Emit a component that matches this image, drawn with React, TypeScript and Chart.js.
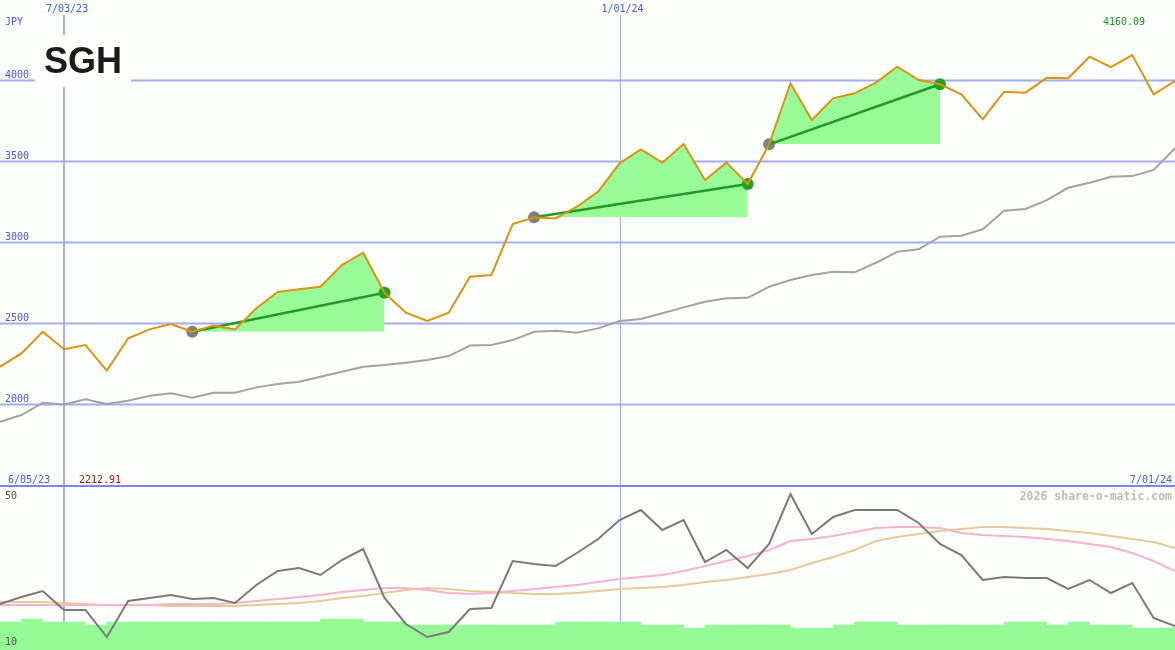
import React, { useEffect, useRef } from 'react';
import { Chart, registerables } from 'chart.js';

Chart.register(...registerables);

// ---- data (weekly points, index 0 = 6/12/23 ... index 55 = 7/01/24) ----
const price = [
  2236, 2319, 2452, 2344, 2370, 2212.91, 2412, 2467, 2500, 2452,
  2490, 2467, 2597, 2698, 2714, 2730, 2864, 2940, 2693, 2570,
  2519, 2570, 2792, 2802, 3117, 3159, 3152, 3224, 3317, 3492,
  3578, 3496, 3611, 3389, 3496, 3364, 3609, 3986, 3759, 3893,
  3924, 3990, 4088, 4006, 3980, 3918, 3765, 3934, 3928, 4020,
  4017, 4150, 4085, 4160.09, 3918, 4000,
];
const priceAvg = [
  1897, 1938, 2014, 2004, 2035, 2006, 2027, 2057, 2072, 2045,
  2076, 2076, 2109, 2130, 2144, 2175, 2206, 2236, 2247, 2261,
  2278, 2302, 2367, 2370, 2401, 2452, 2459, 2446, 2473, 2519,
  2531, 2566, 2603, 2638, 2659, 2662, 2730, 2772, 2802, 2823,
  2819, 2878, 2946, 2961, 3039, 3045, 3085, 3199, 3210, 3265,
  3341, 3372, 3409, 3413, 3451, 3585,
];
const signalStart = [9, 25, 36];
const signalEnd = [18, 35, 44];

const osc = [
  21.5, 23.25, 24.75, 20, 20, 13.25, 22.25, 23, 23.75, 22.75,
  23, 21.75, 26.25, 29.75, 30.5, 28.75, 32.5, 35.25, 23, 16.5,
  13.25, 14.5, 20.25, 20.5, 32.25, 31.5, 31, 34.25, 37.75, 42.5,
  45, 40, 42.5, 32, 35, 30.5, 36.5, 49, 39, 43.25,
  45, 45, 45, 41.75, 36.5, 33.75, 27.5, 28.25, 28, 28,
  25.25, 27.5, 24.25, 26.75, 18, 16,
];
const oscFast = [
  21.25, 21.25, 21.25, 21.25, 21.25, 21.25, 21.25, 21.25, 21.5, 21.5,
  21.5, 21.75, 22.25, 22.75, 23.25, 23.75, 24.5, 25, 25.5, 25.5,
  25, 24.25, 24, 24.25, 24.75, 25.25, 25.75, 26.25, 27, 27.75,
  28.25, 28.75, 29.75, 31, 32.25, 33.5, 35, 37.25, 37.75, 38.5,
  39.5, 40.5, 40.75, 40.75, 40.5, 39.25, 38.75, 38.5, 38.25, 37.75,
  37.25, 36.5, 35.75, 34.25, 32.25, 29.75,
];
const oscSlow = [
  22, 22, 22, 21.75, 21.5, 21.25, 21.25, 21.25, 21, 21,
  21, 21, 21.25, 21.5, 21.75, 22.25, 23, 23.5, 24.25, 25,
  25.5, 25.25, 24.75, 24.5, 24.25, 24, 24, 24.25, 24.75, 25.25,
  25.5, 25.75, 26.25, 27, 27.5, 28.25, 29, 30, 31.75, 33.25,
  35, 37.25, 38.25, 39, 39.75, 40.25, 40.75, 40.75, 40.5, 40.25,
  39.75, 39.25, 38.5, 37.75, 37, 35.5,
];
// one bar per week interval [i, i+1]
const volumeBars = [
  17, 17.75, 17, 17, 16.25, 17, 17, 17, 17, 17,
  17, 17, 17, 17, 17, 17.75, 17.75, 17, 17, 16.25,
  16.25, 16.25, 16.25, 16.25, 16.25, 16.25, 17, 17, 17, 17,
  16.25, 16.25, 15.5, 16.25, 16.25, 16.25, 16.25, 15.5, 15.5, 16.25,
  17, 17, 16.25, 16.25, 16.25, 16.25, 16.25, 17, 17, 16.25,
  17, 16.25, 16.25, 15.5, 15.5,
];

const priceTicks = [2000, 2500, 3000, 3500, 4000];
const priceTickText = ['2000', '2500', '3000', '3500', '4000'];
const dateTickIndex = [3, 29];
const dateTickText = ['7/03/23', '1/01/24'];
const oscTicks = [50, 10];

// ---- style ----
const BG = '#fdfffd';
const GRID = '#a4acf2';
const SEP = '#7a86ee';
const BLUE = '#4657ee';
const MONO = '"DejaVu Sans Mono", monospace';

const pts = (arr: number[], from = 0) => arr.map((v, i) => ({ x: i + from, y: v }));

const overlay = {
  id: 'overlay',
  beforeDraw(c: any) {
    const { ctx, width, height } = c;
    ctx.save();
    ctx.fillStyle = BG;
    ctx.fillRect(0, 0, width, height);
    ctx.restore();
  },
  beforeDatasetsDraw(c: any) {
    const { ctx, width, height } = c;
    const xs = c.scales.x;
    const ys = c.scales.y;
    ctx.save();
    ctx.strokeStyle = GRID;
    ctx.lineWidth = 2;
    priceTicks.forEach((t) => {
      const py = Math.round(ys.getPixelForValue(t)) - 0.5;
      ctx.beginPath();
      ctx.moveTo(0, py);
      ctx.lineTo(width, py);
      ctx.stroke();
    });
    dateTickIndex.forEach((idx, k) => {
      const px = xs.getPixelForValue(idx);
      ctx.lineWidth = k === 0 ? 2 : 1;
      const x = k === 0 ? Math.round(px) : Math.round(px) + 0.5;
      ctx.beginPath();
      ctx.moveTo(x, 15);
      ctx.lineTo(x, height);
      ctx.stroke();
    });
    ctx.strokeStyle = SEP;
    ctx.lineWidth = 2;
    ctx.beginPath();
    ctx.moveTo(0, 486);
    ctx.lineTo(width, 486);
    ctx.stroke();
    // title box
    ctx.fillStyle = BG;
    ctx.fillRect(35, 35, 96, 52);
    ctx.fillStyle = '#1c1c1c';
    ctx.font = 'bold 36px "Liberation Sans", Arial, sans-serif';
    ctx.textBaseline = 'alphabetic';
    ctx.fillText('SGH', 44, 73);
    ctx.restore();
  },
  afterDatasetsDraw(c: any) {
    const { ctx } = c;
    const xs = c.scales.x;
    const ys = c.scales.y;
    const y2 = c.scales.y2;
    ctx.save();
    ctx.font = `10px ${MONO}`;
    ctx.textBaseline = 'alphabetic';
    ctx.fillStyle = BLUE;
    ctx.textAlign = 'left';
    priceTicks.forEach((t, k) => {
      ctx.fillText(priceTickText[k], 5, Math.round(ys.getPixelForValue(t)) - 3);
    });
    ctx.fillText('JPY', 5, 25);
    ctx.textAlign = 'center';
    dateTickIndex.forEach((idx, k) => {
      ctx.fillText(dateTickText[k], xs.getPixelForValue(idx) + 3, 12);
    });
    ctx.textAlign = 'left';
    ctx.fillText('6/05/23', 8, 483);
    ctx.textAlign = 'right';
    ctx.fillText('7/01/24', 1172, 483);
    ctx.textAlign = 'left';
    ctx.fillStyle = '#a31515';
    ctx.fillText(Math.min(...price).toFixed(2), 79, 483);
    ctx.fillStyle = '#1f8f1f';
    ctx.fillText(Math.max(...price).toFixed(2), 1103, 25);
    ctx.fillStyle = '#555555';
    ctx.fillText(String(oscTicks[0]), 5, Math.round(y2.getPixelForValue(oscTicks[0])) + 9);
    ctx.fillText(String(oscTicks[1]), 5, Math.round(y2.getPixelForValue(oscTicks[1])) - 5);
    ctx.fillStyle = '#bcbcbc';
    ctx.font = `bold 11.5px ${MONO}`;
    ctx.textAlign = 'right';
    ctx.fillText('2026 share-o-matic.com', 1172, 500);
    ctx.restore();
  },
};

export default function App() {
  const ref = useRef<HTMLCanvasElement>(null);
  useEffect(() => {
    document.body.style.margin = '0';
    const canvas = ref.current;
    if (!canvas) return;

    const fills = signalStart.map((s, k) => ({
      type: 'line' as const,
      data: pts(price.slice(s, signalEnd[k] + 1), s),
      yAxisID: 'y',
      borderWidth: 0,
      borderColor: 'rgba(0,0,0,0)',
      backgroundColor: '#98fb98',
      pointRadius: 0,
      fill: { target: { value: price[s] }, above: '#98fb98', below: 'rgba(0,0,0,0)' },
      order: 8,
    }));
    const segLines = signalStart.map((s, k) => ({
      type: 'line' as const,
      data: [
        { x: s, y: price[s] },
        { x: signalEnd[k], y: price[signalEnd[k]] },
      ],
      yAxisID: 'y',
      borderColor: '#239a23',
      borderWidth: 2.5,
      pointRadius: 0,
      fill: false,
      order: 3,
    }));

    const chart = new Chart(canvas, {
      type: 'line',
      data: {
        datasets: [
          ...fills,
          {
            data: pts(priceAvg),
            yAxisID: 'y',
            borderColor: '#a3a3a3',
            borderWidth: 2,
            pointRadius: 0,
            fill: false,
            order: 7,
          },
          {
            data: signalStart.map((s) => ({ x: s, y: price[s] })),
            yAxisID: 'y',
            showLine: false,
            pointRadius: 6,
            pointBorderWidth: 0,
            pointBackgroundColor: '#808080',
            order: 5,
          },
          ...segLines,
          {
            data: signalEnd.map((s) => ({ x: s, y: price[s] })),
            yAxisID: 'y',
            showLine: false,
            pointRadius: 6,
            pointBorderWidth: 0,
            pointBackgroundColor: '#24a024',
            order: 2,
          },
          {
            data: pts(price),
            yAxisID: 'y',
            borderColor: '#db940e',
            borderWidth: 2,
            pointRadius: 0,
            fill: false,
            order: 1,
          },
          {
            type: 'bar' as const,
            data: volumeBars.map((v, i) => ({ x: i + 0.5, y: v })),
            yAxisID: 'y2',
            backgroundColor: '#96fa96',
            borderWidth: 0,
            barPercentage: 1,
            categoryPercentage: 1,
            grouped: false,
            order: 20,
          } as any,
          {
            data: pts(oscSlow),
            yAxisID: 'y2',
            borderColor: '#e8ca9a',
            borderWidth: 2,
            pointRadius: 0,
            fill: false,
            order: 13,
          },
          {
            data: pts(oscFast),
            yAxisID: 'y2',
            borderColor: '#fbb3c9',
            borderWidth: 2,
            pointRadius: 0,
            fill: false,
            order: 12,
          },
          {
            data: pts(osc),
            yAxisID: 'y2',
            borderColor: '#7a7a7a',
            borderWidth: 2,
            pointRadius: 0,
            fill: false,
            order: 11,
          },
        ],
      },
      options: {
        responsive: false,
        animation: false,
        devicePixelRatio: 1,
        layout: { padding: 0, autoPadding: false },
        plugins: {
          legend: { display: false },
          tooltip: { enabled: false },
        },
        elements: { line: { tension: 0 } },
        scales: {
          x: { type: 'linear', display: false, offset: false, min: 0, max: price.length - 1 },
          y: { display: false, min: 488, max: 4500 },
          y2: { display: false, min: 10, max: 172.5 },
        },
      },
      plugins: [overlay],
    } as any);
    return () => chart.destroy();
  }, []);

  return (
    <div style={{ position: 'absolute', left: 0, top: 0, width: 1175, height: 650 }}>
      <canvas ref={ref} width={1175} height={650} style={{ display: 'block', width: 1175, height: 650 }} />
    </div>
  );
}
